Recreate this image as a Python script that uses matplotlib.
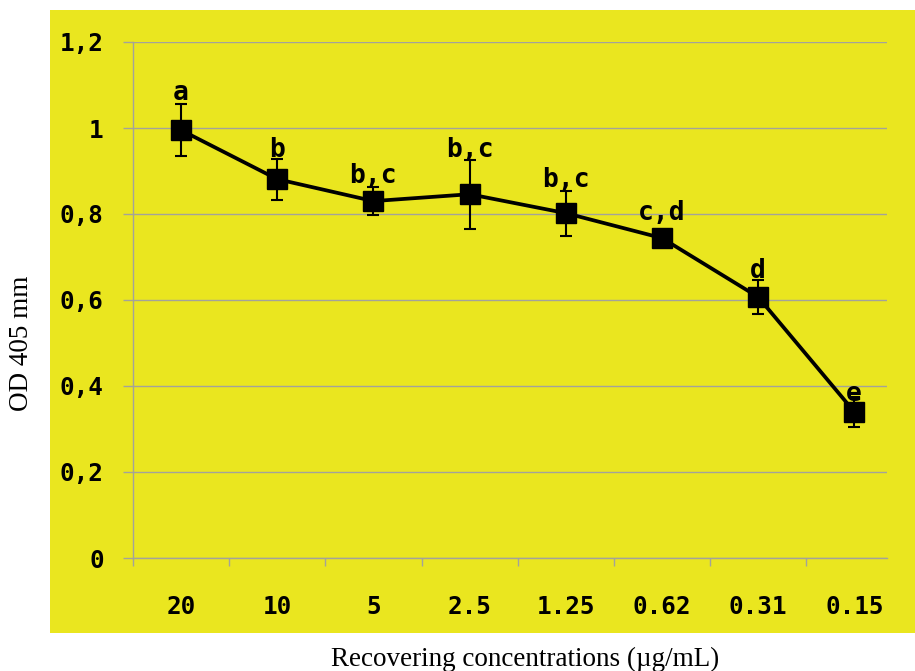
import matplotlib
matplotlib.use("Agg")
import matplotlib.pyplot as plt
from matplotlib.patches import Rectangle
import numpy as np

# Data
concentrations = ["20", "10", "5", "2.5", "1.25", "0.62", "0.31", "0.15"]
od_mean = [0.995, 0.881, 0.830, 0.846, 0.802, 0.744, 0.607, 0.340]
od_err = [0.060, 0.048, 0.033, 0.080, 0.052, 0.010, 0.040, 0.035]
groups = ["a", "b", "b,c", "b,c", "b,c", "c,d", "d", "e"]
y_ticks = [0, 0.2, 0.4, 0.6, 0.8, 1.0, 1.2]
y_tick_labels = ["0", "0,2", "0,4", "0,6", "0,8", "1", "1,2"]

# Baseline offset (points) of each group letter above its marker
letter_offsets = [21.5, 16, 13, 26.5, 18.5, 13, 13.5, 7.5]

W, H = 915, 671
fig = plt.figure(figsize=(W / 100, H / 100), dpi=100)
fig.patch.set_facecolor("white")

yellow = "#EAE61F"
fig.patches.append(Rectangle((50 / W, 1 - 633 / H), (W - 50) / W, (633 - 10) / H,
                             transform=fig.transFigure, facecolor=yellow,
                             edgecolor="none", zorder=-5))

ax = fig.add_axes([133 / W, 1 - 558 / H, (887 - 133) / W, 516 / H])
ax.set_facecolor("none")
ax.set_zorder(2)

x = np.arange(len(concentrations))
grid_col = "#A3A39A"
tick_family = "DejaVu Sans Mono"

ax.set_ylim(0, 1.2)
ax.set_xlim(-0.5, 7.34)
ax.set_yticks(y_ticks)
ax.set_yticklabels(y_tick_labels)
ax.yaxis.grid(True, color=grid_col, linewidth=1.0)
ax.set_axisbelow(True)

for side in ["top", "right"]:
    ax.spines[side].set_visible(False)
for side in ["left", "bottom"]:
    ax.spines[side].set_color(grid_col)
    ax.spines[side].set_linewidth(1.0)

ax.set_xticks(x)
ax.set_xticklabels(concentrations)
ax.set_xticks(np.arange(-0.5, len(concentrations) - 0.5, 1.0), minor=True)
ax.tick_params(axis="x", which="major", length=0, pad=27)
ax.tick_params(axis="x", which="minor", length=6, color=grid_col, width=1.0, direction="out")
ax.tick_params(axis="y", length=7, color=grid_col, width=1.0, pad=14)

for lab in ax.get_xticklabels() + ax.get_yticklabels():
    lab.set_fontfamily(tick_family)
    lab.set_fontweight("bold")
    lab.set_fontsize(17.5)

ax.errorbar(x, od_mean, yerr=od_err, color="black", linewidth=2.7,
            marker="s", markersize=14, markerfacecolor="black",
            markeredgecolor="black", ecolor="black", elinewidth=1.5,
            capsize=4.3, capthick=1.5, zorder=3)

for xi, yi, g, off in zip(x, od_mean, groups, letter_offsets):
    ax.annotate(g, (xi, yi), xytext=(0, off), textcoords="offset points",
                ha="center", va="baseline", fontsize=19, fontweight="bold",
                family=tick_family, zorder=4)

fig.text(22 / W, 1 - 343 / H, "OD 405 mm", rotation=90, ha="center", va="center",
         family="Liberation Serif", fontsize=19.5)
fig.text(525 / W, 1 - 666 / H, "Recovering concentrations (\u00b5g/mL)", ha="center",
         va="baseline", family="Liberation Serif", fontsize=19.5)

fig.savefig("out.png", dpi=100)
